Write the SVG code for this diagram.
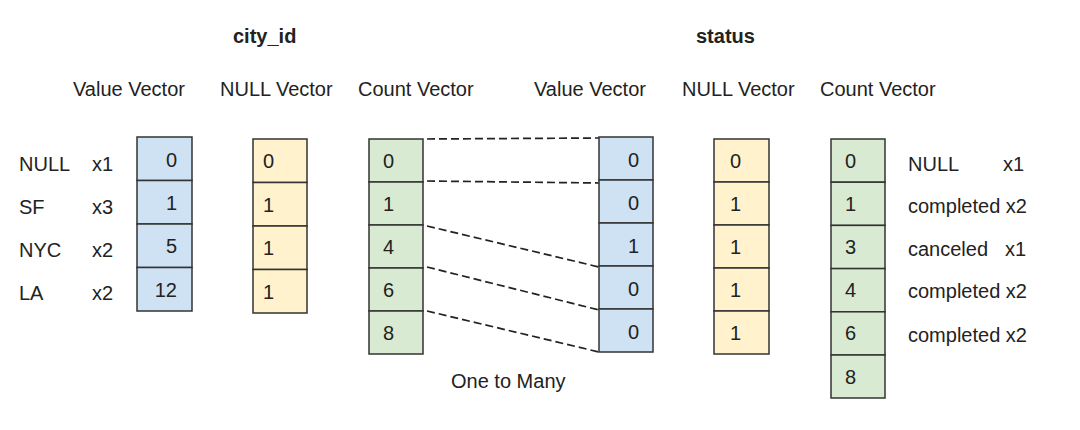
<svg xmlns="http://www.w3.org/2000/svg" width="1080" height="430" viewBox="0 0 1080 430">
<style>
text{font-family:"Liberation Sans",Arial,sans-serif;font-size:20px;fill:#222}
.h{font-weight:bold}
.c{stroke:#333;stroke-width:1.5}
.b{fill:#cfe2f3}
.y{fill:#fff2cc}
.g{fill:#d9ead3}
.e{text-anchor:end}
.d{stroke:#222;stroke-width:1.7;stroke-dasharray:8 4;fill:none}
</style>
<rect width="1080" height="430" fill="#fff"/>
<g id="titles">
<text class="h" x="233" y="43">city_id</text>
<text class="h" x="696" y="43">status</text>
<text x="73" y="96">Value Vector</text>
<text x="220" y="96">NULL Vector</text>
<text x="358" y="96">Count Vector</text>
<text x="534" y="96">Value Vector</text>
<text x="682" y="96">NULL Vector</text>
<text x="820" y="96">Count Vector</text>
</g>
<g id="city-labels">
<text x="19" y="171">NULL<tspan x="92">x1</tspan></text>
<text x="19" y="214">SF<tspan x="92">x3</tspan></text>
<text x="19" y="257">NYC<tspan x="92">x2</tspan></text>
<text x="19" y="300">LA<tspan x="92">x2</tspan></text>
</g>
<g id="city-value">
<rect class="c b" x="137" y="137" width="55" height="43.5"/>
<rect class="c b" x="137" y="180.5" width="55" height="43.5"/>
<rect class="c b" x="137" y="224" width="55" height="43.5"/>
<rect class="c b" x="137" y="267.5" width="55" height="43.5"/>
<text class="e" x="177" y="167">0</text>
<text class="e" x="177" y="210">1</text>
<text class="e" x="177" y="253">5</text>
<text class="e" x="177" y="297">12</text>
</g>
<g id="city-null">
<rect class="c y" x="253" y="139" width="54" height="43.5"/>
<rect class="c y" x="253" y="182.5" width="54" height="43.5"/>
<rect class="c y" x="253" y="226" width="54" height="43.5"/>
<rect class="c y" x="253" y="269.5" width="54" height="43.5"/>
<text x="263" y="168">0</text>
<text x="263" y="212">1</text>
<text x="263" y="255">1</text>
<text x="263" y="299">1</text>
</g>
<g id="city-count">
<rect class="c g" x="369" y="139" width="54" height="43"/>
<rect class="c g" x="369" y="182" width="54" height="43"/>
<rect class="c g" x="369" y="225" width="54" height="43"/>
<rect class="c g" x="369" y="268" width="54" height="43"/>
<rect class="c g" x="369" y="311" width="54" height="43"/>
<text x="383" y="168">0</text>
<text x="383" y="211">1</text>
<text x="383" y="254">4</text>
<text x="383" y="297">6</text>
<text x="383" y="340">8</text>
</g>
<g id="connectors">
<line class="d" x1="427" y1="139" x2="599" y2="138"/>
<line class="d" x1="427" y1="181" x2="599" y2="183"/>
<line class="d" x1="427" y1="226" x2="599" y2="267"/>
<line class="d" x1="427" y1="267" x2="599" y2="310"/>
<line class="d" x1="427" y1="311" x2="599" y2="352"/>
</g>
<g id="status-value">
<rect class="c b" x="599" y="137" width="54" height="43"/>
<rect class="c b" x="599" y="180" width="54" height="43"/>
<rect class="c b" x="599" y="223" width="54" height="43"/>
<rect class="c b" x="599" y="266" width="54" height="43"/>
<rect class="c b" x="599" y="309" width="54" height="43"/>
<text class="e" x="639" y="167">0</text>
<text class="e" x="639" y="210">0</text>
<text class="e" x="639" y="253">1</text>
<text class="e" x="639" y="296">0</text>
<text class="e" x="639" y="339">0</text>
</g>
<g id="status-null">
<rect class="c y" x="714" y="139" width="55" height="43"/>
<rect class="c y" x="714" y="182" width="55" height="43"/>
<rect class="c y" x="714" y="225" width="55" height="43"/>
<rect class="c y" x="714" y="268" width="55" height="43"/>
<rect class="c y" x="714" y="311" width="55" height="43"/>
<text x="730" y="168">0</text>
<text x="730" y="211">1</text>
<text x="730" y="254">1</text>
<text x="730" y="297">1</text>
<text x="730" y="340">1</text>
</g>
<g id="status-count">
<rect class="c g" x="831" y="139" width="54" height="43.2"/>
<rect class="c g" x="831" y="182.2" width="54" height="43.2"/>
<rect class="c g" x="831" y="225.4" width="54" height="43.2"/>
<rect class="c g" x="831" y="268.6" width="54" height="43.2"/>
<rect class="c g" x="831" y="311.8" width="54" height="43.2"/>
<rect class="c g" x="831" y="355" width="54" height="43"/>
<text x="845" y="168">0</text>
<text x="845" y="211">1</text>
<text x="845" y="254">3</text>
<text x="845" y="297">4</text>
<text x="845" y="340">6</text>
<text x="845" y="384">8</text>
</g>
<g id="status-labels">
<text x="908" y="171">NULL<tspan x="1003">x1</tspan></text>
<text x="908" y="213">completed x2</text>
<text x="908" y="256">canceled<tspan x="1005">x1</tspan></text>
<text x="908" y="298">completed x2</text>
<text x="908" y="342">completed x2</text>
</g>
<g id="caption">
<text x="451" y="388">One to Many</text>
</g>
</svg>
